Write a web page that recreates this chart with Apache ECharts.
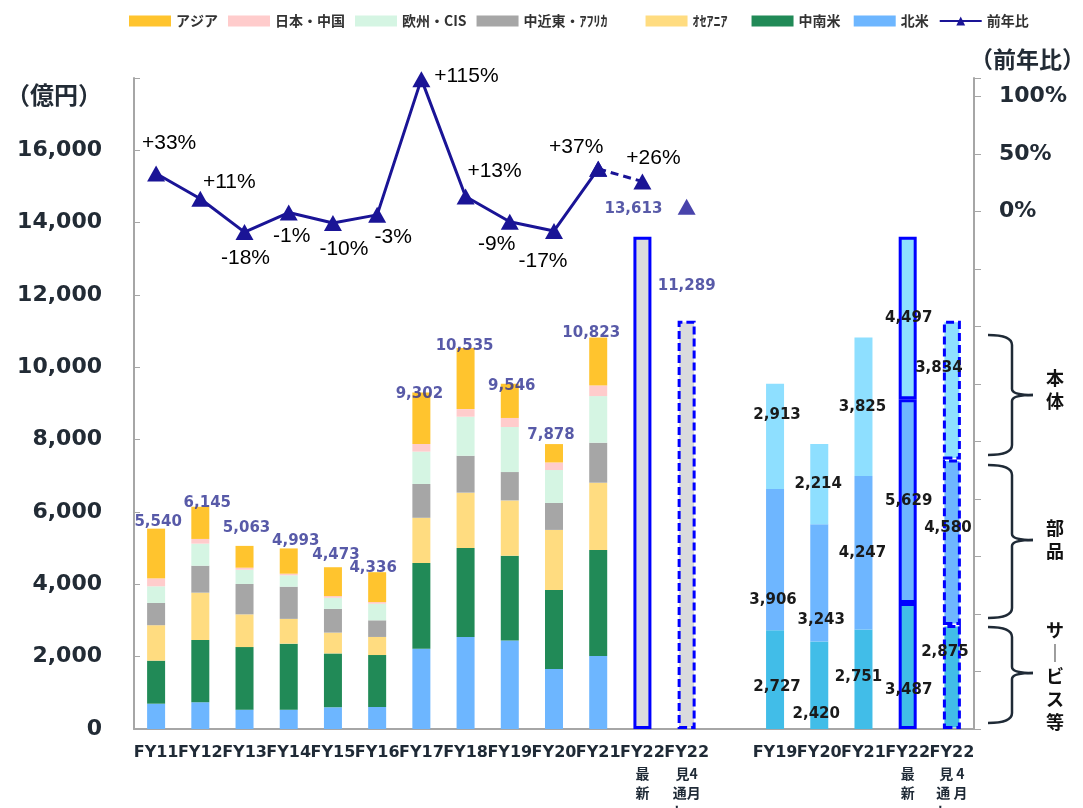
<!DOCTYPE html>
<html>
<head>
<meta charset="utf-8">
<script src="https://cdn.jsdelivr.net/npm/echarts@6/dist/echarts.min.js"></script>
<style>
html, body { margin: 0; padding: 0; background: #fff; }
#main { width: 1083px; height: 808px; }
</style>
</head>
<body>
<div id="main"></div>
<script>
// カテゴリ（左: 地域別 FY11-FY22、空き1つ、右: 北米内訳 FY19-FY22）
var categories = ['FY11', 'FY12', 'FY13', 'FY14', 'FY15', 'FY16', 'FY17', 'FY18', 'FY19', 'FY20', 'FY21',
  'FY22\n最\n新', 'FY22\n見4\n通月\nし　', '',
  'FY19', 'FY20', 'FY21', 'FY22\n最\n新', 'FY22\n見 4\n通 月\nし　 '];

// 地域別売上（億円） FY11-FY21
var northAmerica     = [700, 740, 535, 535, 600, 610, 2220, 2545, 2450, 1660, 2020];
var latinAmerica     = [1190, 1720, 1730, 1825, 1490, 1435, 2370, 2460, 2340, 2185, 2930];
var oceania          = [980, 1310, 905, 685, 575, 500, 1250, 1530, 1530, 1660, 1860];
var middleEastAfrica = [615, 745, 840, 890, 655, 460, 935, 1020, 785, 745, 1105];
var europeCis        = [460, 610, 395, 315, 310, 460, 895, 1080, 1245, 910, 1290];
var japanChina       = [220, 130, 55, 45, 45, 45, 210, 210, 250, 210, 295];
var asia             = [1375, 890, 603, 698, 798, 826, 1422, 1690, 946, 508, 1323];
// 合計 FY11-FY22(最新), FY22(4月見通し)
var totals = [5540, 6145, 5063, 4993, 4473, 4336, 9302, 10535, 9546, 7878, 10823, 13613, 11289];

// 前年比（%）
var yoy = [33, 11, -18, -1, -10, -3, 115, 13, -9, -17, 37];
var yoyLatest = 26;
var yoyOutlook = 4;

// 北米内訳 FY19, FY20, FY21, FY22最新, FY22見通し
var service = [2727, 2420, 2751, 3487, 2875];
var parts   = [3906, 3243, 4247, 5629, 4580];
var body    = [2913, 2214, 3825, 4497, 3834];

var leftTicks = [0, 2000, 4000, 6000, 8000, 10000, 12000, 14000, 16000];
var rightTicks = [0, 50, 100];

// ラベル位置調整（スタイル）
var totalOff = [[2,-7],[7,-4],[2,-18],[7,-7],[3,-12],[-4,-4],[-2,2],[-1,-2],[2,2],[-3,-9],[-7,-4],[-9,-28],[0,-35]];
var yoyOff = [[13,-30],[29,-17],[1,26],[3,24],[11,26],[16,22],[45,-3],[29,-25],[-13,22],[-11,30],[-22,-22]];
var serviceOff = [[2,7],[-3,29],[-5,-2],[1,24],[-7,-25]];
var partsOff = [[-2,40],[2,37],[-1,0],[1,0],[-4,-14]];
var bodyOff = [[2,-21],[-1,0],[-1,0],[1,0],[-13,-22]];

var N = categories.length;
var RIGHT_START = 14;
var BLUE = '#0000FF';
var LINE_COLOR = '#1A1496';
var NUM_FONT = 'DejaVu Sans';
var JP_FONT = '"Noto Sans CJK JP", sans-serif';

function pad(values, start) {
  var out = [];
  for (var i = 0; i < N; i++) out.push(null);
  for (var j = 0; j < values.length; j++) out[start + j] = values[j];
  return out;
}
function fmt(v) {
  return String(v).replace(/\B(?=(\d{3})+(?!\d))/g, ',');
}
function pct(v) {
  return (v > 0 ? '+' : '') + v + '%';
}

function regionSeries(name, color, values) {
  return { name: name, type: 'bar', stack: 'a', barWidth: 18, data: pad(values, 0), itemStyle: { color: color } };
}

// FY22の箱（灰色）
var fy22Data = pad([], 0);
fy22Data[11] = { value: totals[11], itemStyle: { color: '#DADBDD', borderColor: BLUE, borderWidth: 3 } };
fy22Data[12] = { value: totals[12], itemStyle: { color: '#DADBDD', borderColor: BLUE, borderWidth: 3, borderType: [8, 4] } };

function rightSeries(name, color, values, offs) {
  var data = pad([], 0);
  for (var i = 0; i < values.length; i++) {
    var item = { value: values[i], label: { offset: offs[i] } };
    if (i === 3) item.itemStyle = { borderColor: BLUE, borderWidth: 3 };
    if (i === 4) item.itemStyle = { borderColor: BLUE, borderWidth: 3, borderType: [8, 4] };
    data[RIGHT_START + i] = item;
  }
  return {
    name: name, type: 'bar', stack: 'a', barWidth: 18, data: data,
    itemStyle: { color: color },
    label: {
      show: true, position: 'inside', formatter: function (p) { return fmt(p.value); },
      fontFamily: NUM_FONT, fontWeight: 'bold', fontSize: 15, color: '#1A1A1A'
    },
    z: 3
  };
}

var totalData = pad([], 0);
for (var t = 0; t < totals.length; t++) {
  totalData[t] = { value: totals[t], label: { offset: totalOff[t] } };
}

var yoyData = pad([], 0);
for (var k = 0; k < yoy.length; k++) {
  yoyData[k] = { value: yoy[k], label: { offset: yoyOff[k] } };
}
var yoyDashData = pad([], 0);
yoyDashData[10] = { value: yoy[10], label: { show: false } };
yoyDashData[11] = { value: yoyLatest, label: { offset: [11, -23] } };
var yoyOutlookData = pad([], 0);
yoyOutlookData[12] = yoyOutlook;

var yoyLabel = {
  show: true, position: 'inside', formatter: function (p) { return pct(p.value); },
  fontFamily: 'Liberation Sans', fontSize: 21, color: '#000'
};

// 凡例の後ろの空き
var legendPad = { '中近東・ｱﾌﾘｶ': '　　', 'ｵｾｱﾆｱ': '　', '中南米': ' ' };

// 右側の中括弧
var BRACE_STYLE = { stroke: '#1F2A36', lineWidth: 2.5, fill: null };
function brace(top, mid, bottom) {
  var x0 = 988, x1 = 1012, x2 = 1033, r = 10;
  return {
    type: 'group',
    children: [
      { type: 'bezierCurve', shape: { x1: x0, y1: top, cpx1: x1, cpy1: top, x2: x1, y2: top + r }, style: BRACE_STYLE },
      { type: 'line', shape: { x1: x1, y1: top + r, x2: x1, y2: mid - 6 }, style: BRACE_STYLE },
      { type: 'bezierCurve', shape: { x1: x1, y1: mid - 6, cpx1: x1, cpy1: mid, x2: x2, y2: mid }, style: BRACE_STYLE },
      { type: 'bezierCurve', shape: { x1: x2, y1: mid, cpx1: x1, cpy1: mid, x2: x1, y2: mid + 6 }, style: BRACE_STYLE },
      { type: 'line', shape: { x1: x1, y1: mid + 6, x2: x1, y2: bottom - r }, style: BRACE_STYLE },
      { type: 'bezierCurve', shape: { x1: x1, y1: bottom - r, cpx1: x1, cpy1: bottom, x2: x0, y2: bottom }, style: BRACE_STYLE }
    ]
  };
}
function sideText(text, y) {
  return { type: 'text', x: 1055, y: y,
    style: { text: text, fontFamily: JP_FONT, fontWeight: 'bold', fontSize: 18, lineHeight: 23,
      fill: '#111', align: 'center', verticalAlign: 'middle' } };
}

var chart = echarts.init(document.getElementById('main'));
var option = {
  animation: false,
  backgroundColor: '#fff',
  grid: { left: 134, right: 109, top: 78, bottom: 79, outerBoundsMode: 'none', containLabel: false },
  legend: {
    left: 124, top: 9, itemWidth: 42, itemHeight: 11, itemGap: 10,
    textStyle: { fontFamily: JP_FONT, fontWeight: 'bold', fontSize: 14, color: '#333' },
    formatter: function (name) { return name + (legendPad[name] || ''); },
    data: [
      { name: 'アジア', icon: 'rect' }, { name: '日本・中国', icon: 'rect' },
      { name: '欧州・CIS', icon: 'rect' }, { name: '中近東・ｱﾌﾘｶ', icon: 'rect' },
      { name: 'ｵｾｱﾆｱ', icon: 'rect' }, { name: '中南米', icon: 'rect' },
      { name: '北米', icon: 'rect' }, '前年比'
    ]
  },
  xAxis: {
    type: 'category', data: categories,
    axisLine: { lineStyle: { color: '#A6A6A6', width: 2 } },
    axisTick: { length: 5, lineStyle: { color: '#A6A6A6' } },
    axisLabel: {
      interval: 0, margin: 13,
      formatter: function (v) {
        var lines = v.split('\n');
        var s = '{a|' + lines[0] + '}';
        for (var i = 1; i < lines.length; i++) s += '\n{b|' + lines[i] + '}';
        return s;
      },
      rich: {
        a: { fontFamily: NUM_FONT, fontWeight: 'bold', fontSize: 16, color: '#1F2A36', lineHeight: 22 },
        b: { fontFamily: JP_FONT, fontWeight: 'bold', fontSize: 14, color: '#1F2A36', lineHeight: 19 }
      }
    }
  },
  yAxis: [{
    type: 'value', min: 0, max: 18000, interval: 2000,
    splitLine: { show: false },
    axisLine: { show: true, lineStyle: { color: '#A6A6A6', width: 2 } },
    axisTick: { show: true, inside: true, length: 6, lineStyle: { color: '#A6A6A6' } },
    axisLabel: {
      margin: 32, fontFamily: NUM_FONT, fontWeight: 'bold', fontSize: 22, color: '#222B35',
      formatter: function (v) { return leftTicks.indexOf(v) >= 0 ? fmt(v) : ''; }
    }
  }, {
    type: 'value', min: -450, max: 116, interval: 50, position: 'right',
    splitLine: { show: false },
    axisLine: { show: true, lineStyle: { color: '#A6A6A6', width: 2 } },
    axisTick: { show: true, length: 7, lineStyle: { color: '#A6A6A6' } },
    axisLabel: {
      margin: 25, fontFamily: NUM_FONT, fontWeight: 'bold', fontSize: 22, color: '#222B35',
      formatter: function (v) { return rightTicks.indexOf(v) >= 0 ? v + '%' : ''; }
    }
  }],
  series: [
    regionSeries('北米', '#6DB6FF', northAmerica),
    regionSeries('中南米', '#218A57', latinAmerica),
    regionSeries('ｵｾｱﾆｱ', '#FFDC80', oceania),
    regionSeries('中近東・ｱﾌﾘｶ', '#A6A6A6', middleEastAfrica),
    regionSeries('欧州・CIS', '#D5F5E3', europeCis),
    regionSeries('日本・中国', '#FFCCCC', japanChina),
    regionSeries('アジア', '#FFC42E', asia),
    { name: 'FY22計', type: 'bar', stack: 'a', barWidth: 18, data: fy22Data },
    rightSeries('サービス等', '#41BDE8', service, serviceOff),
    rightSeries('部品', '#6EB6FF', parts, partsOff),
    rightSeries('本体', '#8EDFFF', body, bodyOff),
    {
      name: '合計', type: 'scatter', data: totalData, symbolSize: 1,
      itemStyle: { color: 'rgba(0,0,0,0)' }, z: 6,
      label: {
        show: true, position: 'inside', formatter: function (p) { return fmt(p.value); },
        fontFamily: NUM_FONT, fontWeight: 'bold', fontSize: 15, color: '#2E3192'
      }
    },
    {
      name: '前年比', type: 'line', yAxisIndex: 1, data: yoyData, z: 8,
      symbol: 'triangle', symbolSize: [18, 16], showAllSymbol: true,
      lineStyle: { color: LINE_COLOR, width: 3 }, itemStyle: { color: LINE_COLOR },
      label: yoyLabel
    },
    {
      name: '前年比', type: 'line', yAxisIndex: 1, data: yoyDashData, z: 8,
      symbol: 'triangle', symbolSize: [18, 16],
      lineStyle: { color: LINE_COLOR, width: 3, type: [8, 5] }, itemStyle: { color: LINE_COLOR },
      label: yoyLabel
    },
    {
      name: '前年比', type: 'scatter', yAxisIndex: 1, data: yoyOutlookData, z: 8,
      symbol: 'triangle', symbolSize: [18, 16], itemStyle: { color: LINE_COLOR }
    }
  ],
  graphic: [
    { type: 'text', x: 6, y: 95, style: { text: '（億円）', fontFamily: JP_FONT, fontWeight: 'bold', fontSize: 24, fill: '#222B35', verticalAlign: 'middle' } },
    { type: 'text', x: 970, y: 59, style: { text: '（前年比）', fontFamily: JP_FONT, fontWeight: 'bold', fontSize: 23, fill: '#222B35', verticalAlign: 'middle' } },
    brace(335, 395, 455),
    brace(465, 540, 618),
    brace(627, 673, 723),
    sideText('本\n体', 390),
    sideText('部\n品', 540),
    sideText('サ\n｜\nビ\nス\n等', 676)
  ]
};
chart.setOption(option);
</script>
</body>
</html>
